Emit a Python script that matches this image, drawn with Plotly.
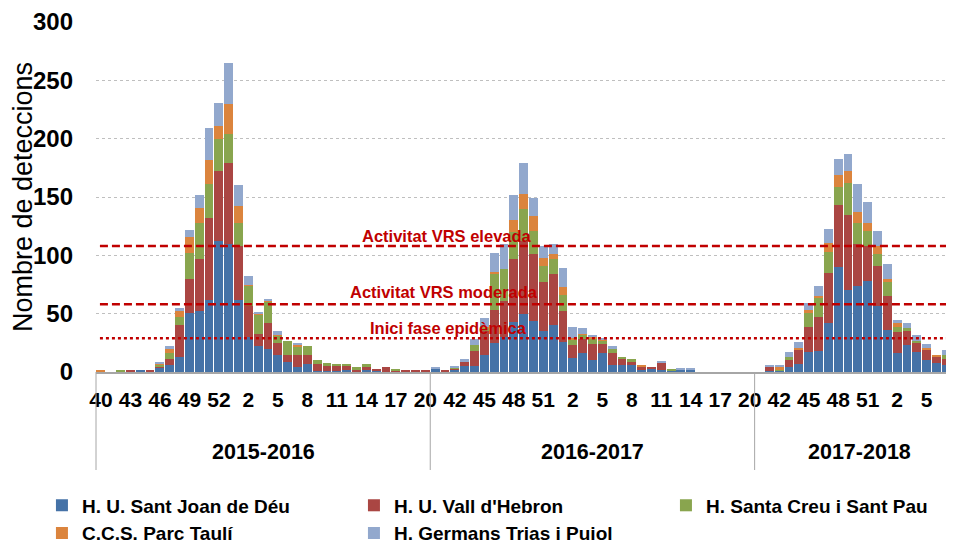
import plotly.graph_objects as go

# ---------------- data ----------------
seasons = ["2015-2016", "2016-2017", "2017-2018"]

weeks_1516 = [40, 41, 42, 43, 44, 45, 46, 47, 48, 49, 50, 51, 52, 53,
              1, 2, 3, 4, 5, 6, 7, 8, 9, 10, 11, 12, 13, 14, 15, 16, 17, 18, 19, 20]
weeks_1617 = [40, 41, 42, 43, 44, 45, 46, 47, 48, 49, 50, 51, 52,
              1, 2, 3, 4, 5, 6, 7, 8, 9, 10, 11, 12, 13, 14, 15, 16, 17, 18, 19, 20]
weeks_1718 = [40, 41, 42, 43, 44, 45, 46, 47, 48, 49, 50, 51, 52,
              1, 2, 3, 4, 5, 6, 7, 8]

series_names = ["H. U. Sant Joan de Déu", "H. U. Vall d'Hebron", "H. Santa Creu i Sant Pau",
                "C.C.S. Parc Taulí", "H. Germans Trias i Pujol"]
series_colors = ["#4572A7", "#AA4643", "#89A54E", "#DB843D", "#92A8CD"]

sjd_1516 = [0, 0, 0, 0, 1, 0, 4, 6, 13, 51, 52, 62, 112, 110, 62, 30, 22, 20, 15, 9, 4, 7, 1, 1, 1, 2, 0, 2, 1, 0, 0, 0, 0, 0]
vh_1516 = [0, 0, 0, 1, 0, 1, 1, 5, 27, 29, 45, 70, 60, 69, 46, 27, 11, 22, 10, 6, 11, 8, 6, 4, 4, 3, 2, 2, 2, 4, 1, 2, 1, 1]
scsp_1516 = [0, 0, 1, 0, 0, 0, 1, 5, 7, 22, 31, 29, 28, 25, 20, 17, 16, 18, 6, 12, 7, 7, 3, 3, 2, 2, 2, 3, 0, 0, 1, 0, 0, 0]
ccs_1516 = [1, 0, 0, 0, 0, 0, 1, 4, 5, 14, 13, 21, 11, 26, 14, 1, 1, 1, 1, 0, 1, 0, 0, 0, 0, 0, 0, 0, 0, 0, 0, 0, 0, 0]
gtp_1516 = [0, 0, 0, 0, 0, 0, 1, 2, 3, 6, 11, 27, 20, 35, 18, 7, 1, 1, 3, 0, 2, 0, 0, 0, 0, 0, 0, 0, 0, 0, 0, 0, 0, 0]

sjd_1617 = [3, 0, 2, 5, 5, 15, 25, 30, 43, 50, 44, 35, 40, 26, 12, 16, 10, 16, 6, 6, 6, 2, 3, 2, 1, 2, 2, 0, 0, 0, 0, 0, 0]
vh_1617 = [0, 1, 1, 4, 13, 20, 28, 31, 54, 62, 57, 42, 44, 26, 11, 12, 14, 8, 10, 5, 3, 3, 1, 6, 0, 0, 0, 0, 0, 0, 0, 0, 0]
scsp_1617 = [0, 0, 1, 0, 5, 3, 31, 27, 23, 28, 20, 14, 13, 14, 5, 4, 5, 3, 4, 2, 2, 0, 0, 0, 1, 0, 0, 0, 0, 0, 0, 0, 0]
ccs_1617 = [0, 0, 0, 0, 0, 1, 2, 0, 10, 13, 13, 7, 4, 7, 1, 1, 1, 1, 0, 0, 0, 1, 0, 0, 0, 0, 0, 0, 0, 0, 0, 0, 0]
gtp_1617 = [1, 0, 1, 2, 5, 7, 16, 22, 22, 26, 15, 10, 9, 16, 10, 5, 1, 1, 2, 0, 0, 0, 0, 1, 0, 1, 1, 0, 0, 0, 0, 0, 0]

sjd_1718 = [0, 1, 1, 4, 7, 17, 18, 42, 90, 70, 74, 78, 57, 36, 16, 23, 17, 10, 8, 6, 5]
vh_1718 = [0, 3, 0, 6, 12, 22, 29, 43, 53, 65, 36, 30, 34, 29, 18, 12, 8, 9, 5, 5, 3]
scsp_1718 = [0, 0, 1, 3, 0, 12, 17, 18, 16, 27, 18, 13, 10, 12, 5, 3, 2, 0, 0, 4, 1]
ccs_1718 = [0, 0, 3, 0, 2, 2, 1, 8, 10, 10, 9, 7, 7, 3, 3, 0, 0, 2, 2, 0, 0]
gtp_1718 = [0, 2, 1, 4, 5, 6, 9, 12, 14, 15, 24, 18, 13, 13, 3, 4, 5, 3, 0, 4, 1]

threshold_values = [108, 58, 29]
threshold_labels = ["Activitat VRS elevada", "Activitat VRS moderada", "Inici fase epidèmica"]

# ---------------- build ----------------
all_weeks = weeks_1516 + weeks_1617 + weeks_1718
xpos = list(range(len(all_weeks)))
season_lengths = [len(weeks_1516), len(weeks_1617), len(weeks_1718)]
season_starts = [0, season_lengths[0], season_lengths[0] + season_lengths[1]]

series_values = [
    sjd_1516 + sjd_1617 + sjd_1718,
    vh_1516 + vh_1617 + vh_1718,
    scsp_1516 + scsp_1617 + scsp_1718,
    ccs_1516 + ccs_1617 + ccs_1718,
    gtp_1516 + gtp_1617 + gtp_1718,
]

SANS = "Liberation Sans, Arial, sans-serif"

fig = go.Figure()
for name, color, vals in zip(series_names, series_colors, series_values):
    fig.add_trace(go.Bar(x=xpos, y=vals, name=name, marker=dict(color=color, line=dict(width=0))))

xmin, xmax = -0.5, 86.78

# reference threshold lines
dashes = ["8px,4px", "8px,4px", "3px,3px"]
label_y_offsets = [9, 10.5, 9]
label_x = [35.2, 34.9, 35.4]
for val, lab, dsh, dy, lx in zip(threshold_values, threshold_labels, dashes, label_y_offsets, label_x):
    fig.add_shape(type="line", xref="x", yref="y", x0=-0.1, x1=xmax, y0=val, y1=val,
                  line=dict(color="#C00000", width=2.5, dash=dsh))
    fig.add_annotation(x=lx, y=val + dy, xref="x", yref="y", text=lab, showarrow=False,
                       font=dict(family=SANS, size=16.5, color="#C00000", weight="bold"))

# season separators and labels
for i, s in enumerate(season_starts):
    xp = (s - 0.5 - xmin) / (xmax - xmin)
    fig.add_shape(type="line", xref="paper", yref="paper", x0=xp, x1=xp, y0=0, y1=-0.28,
                  line=dict(color="#A6A6A6", width=1))
season_label_x = [season_starts[0] + season_lengths[0] / 2 - 0.5,
                  season_starts[1] + season_lengths[1] / 2 - 0.5,
                  77.2]
for sx, sname in zip(season_label_x, seasons):
    fig.add_annotation(x=sx, y=-0.229, xref="x", yref="paper", yanchor="middle", text=sname,
                       showarrow=False,
                       font=dict(family=SANS, size=21.5, color="#000000", weight="bold"))

tickvals = list(range(0, len(all_weeks), 3))
ticktext = [str(all_weeks[i]) for i in tickvals]

fig.update_layout(
    width=946, height=532,
    margin=dict(l=88, r=0, t=14, b=168, autoexpand=False),
    barmode="stack", bargap=0.1,
    plot_bgcolor="white", paper_bgcolor="white",
    showlegend=True,
    legend=dict(orientation="h", x=-0.063, xanchor="left", y=-0.327, yanchor="top",
                entrywidth=267, entrywidthmode="pixels", traceorder="normal",
                font=dict(family=SANS, size=19, color="#000000", weight="bold"),
                itemclick=False, itemdoubleclick=False),
    xaxis=dict(range=[xmin, xmax], tickmode="array", tickvals=tickvals, ticktext=ticktext,
               showgrid=False, zeroline=False, showline=True, linecolor="#A6A6A6", linewidth=1.5,
               ticks="", ticklabelstandoff=8, tickangle=0,
               tickfont=dict(family=SANS, size=21, color="#000000", weight="bold")),
    yaxis=dict(range=[0, 300], tickmode="array", tickvals=[0, 50, 100, 150, 200, 250, 300],
               showgrid=True, gridcolor="#BFBFBF", griddash="dot", gridwidth=1,
               zeroline=False, showline=False, ticks="", ticklabelstandoff=22,
               tickfont=dict(family=SANS, size=24, color="#000000", weight="bold"),
               title=dict(text="Nombre de deteccions", standoff=4,
                          font=dict(family=SANS, size=27, color="#000000"))),
)

fig.write_html("out.html")
